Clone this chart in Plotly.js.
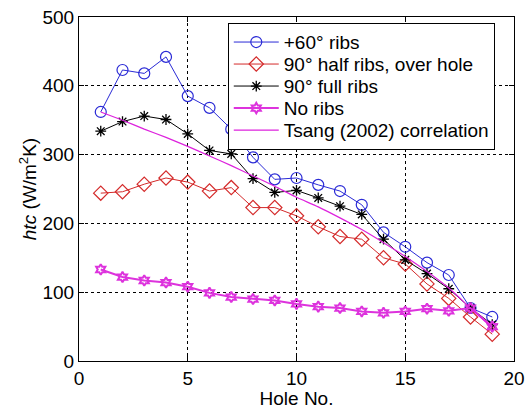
<!DOCTYPE html>
<html>
<head>
<meta charset="utf-8">
<script src="https://cdn.plot.ly/plotly-3.0.1.min.js"></script>
<style>html,body{margin:0;padding:0;background:#fff;}#chart{width:532px;height:407px;}</style>
</head>
<body>
<div id="chart"></div>
<script>
var holes = [1,2,3,4,5,6,7,8,9,10,11,12,13,14,15,16,17,18,19];
var ribs60 = [362,423,418,442,385,368,337,296,264,266,256,247,227,187,166,143,125,77,64];
var halfRibs90 = [244,246,257,266,260,247,252,223,223,211,195,181,177,150,141,112,91,64,39];
var fullRibs90 = [334,348,356,351,330,306,301,265,245,248,237,225,213,177,147,127,105,77,53];
var noRibs = [133,122,117,114,108,99,93,90,88,83,79,77,72,70,72,76,73,77,50];
var tsang = [362,350,337,325,312,298,284,269,254,238,224,208,191,172,152,130,106,77,48];
var names = ['+60\u00b0 ribs','90\u00b0 half ribs, over hole','90\u00b0 full ribs','No ribs','Tsang (2002) correlation'];

var FONT = 'Liberation Sans, Arial, sans-serif';

var traces = [
  {x: holes, y: ribs60, name: names[0], mode: 'lines+markers',
   line: {color: '#2a2ad6', width: 1},
   marker: {symbol: 'circle-open', size: 11, color: '#2a2ad6', line: {width: 1.2}}},
  {x: holes, y: halfRibs90, name: names[1], mode: 'lines+markers',
   line: {color: '#d42a2a', width: 1},
   marker: {symbol: 'diamond-open', size: 11, color: '#d42a2a', line: {width: 1.2}}},
  {x: holes, y: fullRibs90, name: names[2], mode: 'lines+markers',
   line: {color: '#000000', width: 1},
   marker: {symbol: 'asterisk-open', size: 9, color: '#000000', line: {width: 1.3}}},
  {x: holes, y: noRibs, name: names[3], mode: 'lines+markers',
   line: {color: '#dd33dd', width: 2},
   marker: {symbol: 'hexagram-open', size: 8, color: '#dd33dd', line: {width: 2}}},
  {x: holes, y: tsang, name: names[4], mode: 'lines',
   line: {color: '#dd22dd', width: 1.2, shape: 'spline', smoothing: 0.6}}
];

var axisCommon = {
  showline: true, linecolor: '#000', linewidth: 1, mirror: 'allticks',
  ticks: 'inside', ticklen: 5, tickcolor: '#000',
  showgrid: true, gridcolor: '#000', gridwidth: 1, griddash: '3px,3px',
  zeroline: false,
  tickfont: {family: FONT, size: 19, color: '#000'}
};

var layout = {
  width: 532, height: 407,
  margin: {l: 79, r: 18, t: 17, b: 46},
  paper_bgcolor: '#fff', plot_bgcolor: '#fff',
  showlegend: true,
  xaxis: Object.assign({}, axisCommon, {
    range: [0, 20], tickvals: [0,5,10,15,20],
    title: {text: 'Hole No.', font: {family: FONT, size: 19, color: '#000'}}
  }),
  yaxis: Object.assign({}, axisCommon, {
    range: [0, 500], tickvals: [0,100,200,300,400,500],
    title: {text: '<i>htc</i> (W/m<sup>2</sup>K)', standoff: 0, font: {family: FONT, size: 19, color: '#000'}}
  }),
  legend: {
    x: 0.342, y: 0.982, xanchor: 'left', yanchor: 'top',
    bgcolor: '#fff', bordercolor: '#000', borderwidth: 1,
    font: {family: FONT, size: 19, color: '#000'},
    itemwidth: 45, tracegroupgap: 0
  }
};

var gd = document.getElementById('chart');
Plotly.newPlot(gd, traces, layout, {displayModeBar: false, staticPlot: true}).then(function () {
  // nudge the x-axis title down slightly, as in the reference
  var xt = gd.querySelector('text.xtitle');
  if (xt) {
    var yy = parseFloat(xt.getAttribute('y'));
    if (!isNaN(yy)) xt.setAttribute('y', yy + 2);
  }

  // tighten legend row spacing to match the reference (about 22px per row)
  var leg = gd.querySelector('.legend');
  if (!leg) return;
  var items = leg.querySelectorAll('.traces');
  if (items.length < 2) return;
  var parse = function (el) {
    var t = el.getAttribute('transform') || '';
    var m = t.match(/translate\(\s*([-\d.]+)[ ,]+([-\d.]+)\s*\)/);
    return m ? [parseFloat(m[1]), parseFloat(m[2])] : [0, 0];
  };
  var p0 = parse(items[0]);
  var p1 = parse(items[1]);
  var oldGap = p1[1] - p0[1];
  var newGap = 22;
  var start = p0[1] - 1;
  for (var i = 0; i < items.length; i++) {
    var p = parse(items[i]);
    items[i].setAttribute('transform', 'translate(' + p[0] + ',' + (start + newGap * i) + ')');
  }
  var shrink = (oldGap - newGap) * (items.length - 1) + 1;
  var bg = leg.querySelector('rect.bg');
  if (bg) {
    var h = parseFloat(bg.getAttribute('height'));
    bg.setAttribute('height', h - shrink);
  }
  var sb = leg.querySelector('.scrollbox');
  if (sb) sb.removeAttribute('clip-path');
});
</script>
</body>
</html>
